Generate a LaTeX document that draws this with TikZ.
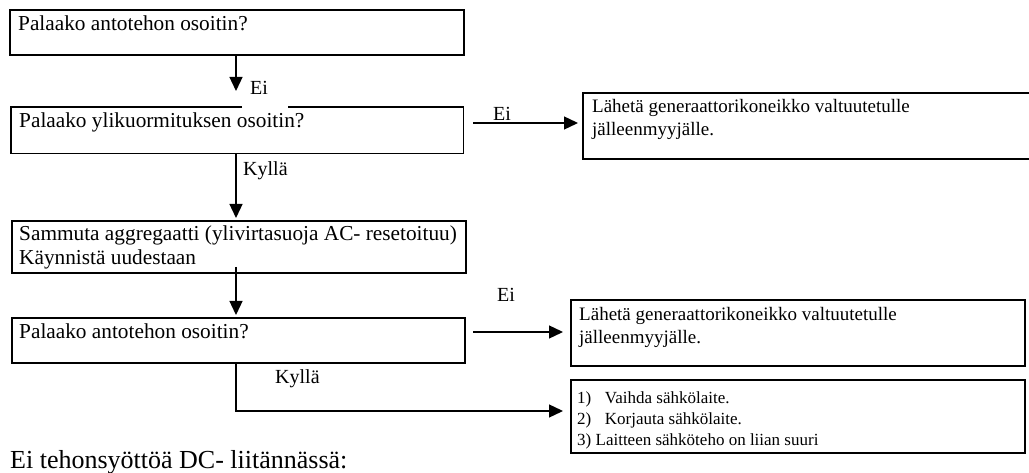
\documentclass[tikz,border=0pt]{standalone}
\usepackage{fontspec}
\setmainfont{Liberation Serif}
\usetikzlibrary{arrows.meta}
\tikzset{
  box/.style={draw, line width=1.6pt, inner sep=0pt, anchor=north west},
  conn/.style={line width=1.3pt},
  arr/.style={conn, -{Triangle[length=14pt,width=13pt]}},
  ltxt/.style={anchor=base west, inner sep=0pt, font=\fontsize{21.3}{25}\selectfont},
  rtxt/.style={anchor=base west, inner sep=0pt, font=\fontsize{19}{23}\selectfont},
  stxt/.style={anchor=base west, inner sep=0pt, font=\fontsize{17}{21}\selectfont},
  lab/.style={anchor=base west, inner sep=0pt, font=\fontsize{20}{24}\selectfont},
}
\begin{document}
\begin{tikzpicture}[x=1pt,y=-1pt]
\useasboundingbox (0,0) rectangle (1029,473);
% boxes
\node[box, minimum width=454pt, minimum height=45pt] (b1) at (9,9) {};
\node[inner sep=0pt, anchor=north west, minimum width=452pt, minimum height=46pt] (b2) at (11,107) {};
\draw[line width=1.6pt] (242,107) -- (b2.north west) -- (b2.south west) -- (b2.south east) -- (b2.north east) -- (288,107);
\node[box, minimum width=454pt, minimum height=52pt] (b3) at (11,220) {};
\node[box, minimum width=453pt, minimum height=45pt] (b4) at (11,317) {};
\node[box, minimum width=460pt, minimum height=66pt] (b5) at (582,92) {};
\node[box, minimum width=454pt, minimum height=66pt] (b6) at (570,299) {};
\node[box, minimum width=454pt, minimum height=73pt] (b7) at (570,379) {};
% texts
\node[ltxt] (t1) at (18,31) {Palaako antotehon osoitin?};
\node[ltxt] (t2) at (19,128) {Palaako ylikuormituksen osoitin?};
\node[ltxt] (t3a) at (19,241) {Sammuta aggregaatti (ylivirtasuoja AC- resetoituu)};
\node[ltxt] (t3b) at (19,265) {Käynnistä uudestaan};
\node[ltxt] (t4) at (19,338) {Palaako antotehon osoitin?};
\node[rtxt] (t5a) at (592,113) {Lähetä generaattorikoneikko valtuutetulle};
\node[rtxt] (t5b) at (592,136) {jälleenmyyjälle.};
\node[rtxt] (t6a) at (579,320) {Lähetä generaattorikoneikko valtuutetulle};
\node[rtxt] (t6b) at (579,344) {jälleenmyyjälle.};
\node[stxt] (t7a) at (577,403) {1)\hspace{0.8em}Vaihda sähkölaite.};
\node[stxt] (t7b) at (577,424) {2)\hspace{0.8em}Korjauta sähkölaite.};
\node[stxt] (t7c) at (577,445) {3) Laitteen sähköteho on liian suuri};
\node[anchor=base west, inner sep=0pt, font=\fontsize{26}{30}\selectfont] (title) at (10,468) {Ei tehonsyöttöä DC- liitännässä:};
% connectors
\coordinate (a1e) at (236,91);
\draw[arr] (b1.south -| a1e) -- (a1e);
\node[lab] (l1) at (250,95) {Ei};
\coordinate (a2s) at (473,123);
\coordinate (a2e) at (578,123);
\draw[arr] (a2s) -- (a2e);
\node[lab] (l2) at (493,121) {Ei};
\coordinate (a3e) at (236,218);
\draw[arr] (b2.south -| a3e) -- (a3e);
\node[lab] (l3) at (243,176) {Kyllä};
\coordinate (a4s) at (236,267);
\coordinate (a4e) at (236,315);
\draw[arr] (a4s) -- (a4e);
\coordinate (a5s) at (473,332);
\coordinate (a5e) at (563,332);
\draw[arr] (a5s) -- (a5e);
\node[lab] (l5) at (497,302) {Ei};
\coordinate (a6c) at (236,411);
\coordinate (a6e) at (563,411);
\draw[arr] (b4.south -| a6c) -- (a6c) -- (a6e);
\node[lab] (l6) at (275,383) {Kyllä};
\end{tikzpicture}
\end{document}
